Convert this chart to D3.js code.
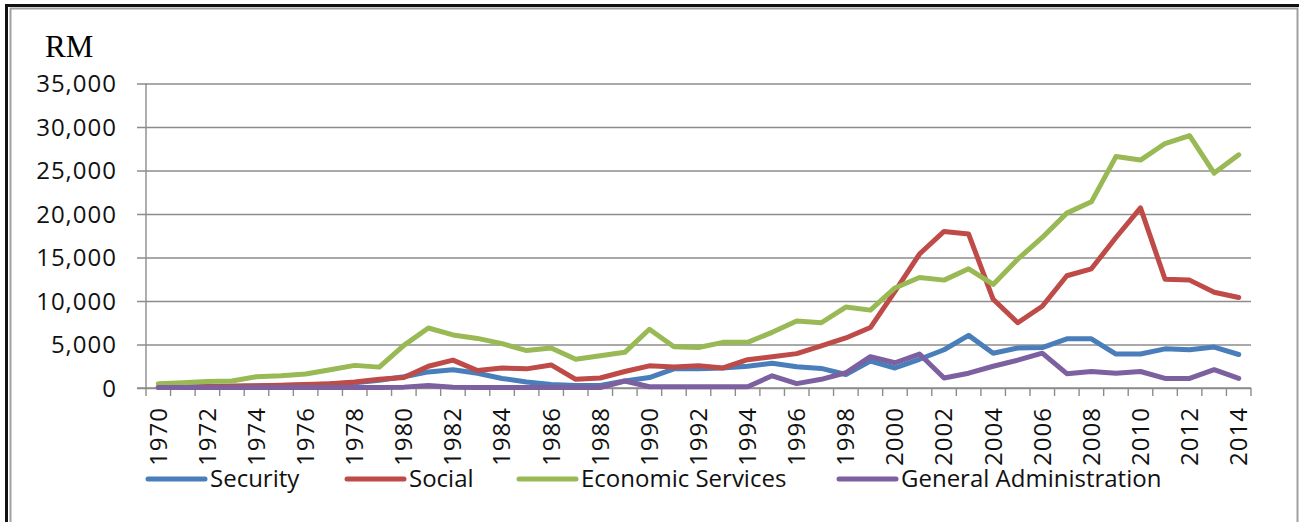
<!DOCTYPE html>
<html>
<head>
<meta charset="utf-8">
<script src="https://cdn.jsdelivr.net/npm/d3@7"></script>
<style>
	body { margin: 0; background: #fff; }
	svg { display: block; }
</style>
</head>
<body>
<div id="chart-div"></div>
<script>
// data (RM millions)
const years = d3.range(1970, 2015);

const security = [
	100, 120, 150, 180, 220, 280, 350, 450, 600, 900,
	1300, 1850, 2100, 1700, 1100, 700, 400, 300, 300, 800,
	1200, 2200, 2200, 2300, 2500, 2850, 2450, 2250, 1550, 3100,
	2300, 3300, 4400, 6050, 4000, 4600, 4650, 5650, 5650, 3900,
	3900, 4500, 4400, 4700, 3850
];
const social = [
	80, 120, 170, 220, 270, 320, 400, 500, 700, 1000,
	1200, 2500, 3200, 2000, 2300, 2200, 2650, 1000, 1150, 1900,
	2550, 2400, 2550, 2300, 3250, 3600, 3950, 4850, 5750, 6950,
	11100, 15400, 18000, 17700, 10200, 7500, 9400, 12900, 13700, 17300,
	20700, 12500, 12400, 11000, 10400
];
const economic = [
	500, 600, 750, 800, 1300, 1400, 1600, 2100, 2600, 2400,
	4900, 6900, 6100, 5700, 5100, 4300, 4600, 3300, 3700, 4100,
	6750, 4750, 4650, 5250, 5250, 6400, 7700, 7500, 9300, 8950,
	11500, 12700, 12400, 13700, 11900, 14800, 17300, 20100, 21400, 26600,
	26200, 28100, 29000, 24700, 26800
];
const generalAdmin = [
	50, 50, 50, 50, 50, 50, 50, 50, 50, 50,
	100, 300, 80, 50, 50, 50, 50, 50, 50, 800,
	150, 150, 150, 150, 150, 1400, 500, 1000, 1750, 3600,
	2900, 3900, 1150, 1700, 2500, 3200, 4000, 1650, 1900, 1700,
	1900, 1100, 1100, 2100, 1100
];

const seriesNames = ['Security', 'Social', 'Economic Services', 'General Administration'];
const seriesValues = [security, social, economic, generalAdmin];
const seriesColors = ['#4a7ebb', '#be4b48', '#98b954', '#7d60a0'];

const yTicks = d3.range(0, 35001, 5000);

const WIDTH = 1299;
const HEIGHT = 522;
const PLOT = { left: 146, right: 1251, top: 83.5, bottom: 388 };
const FONT = '"Open Sans", "Noto Sans", sans-serif';
const GRID = '#8c8c8c';
// where each legend entry begins (layout only)
const LEGEND_STARTS = [148, 347, 519, 839];

const svg = d3
	.select('#chart-div')
	.append('svg')
	.attr('width', WIDTH)
	.attr('height', HEIGHT);

// frame: black outer line with a gray one inside
svg.append('path')
	.attr('d', `M6.5,${HEIGHT + 5} V5.5 H${WIDTH + 5}`)
	.attr('fill', 'none')
	.attr('stroke', '#111')
	.attr('stroke-width', 3);
svg.append('path')
	.attr('d', `M10.5,${HEIGHT + 5} V8.5 H1297.5 V${HEIGHT + 5}`)
	.attr('fill', 'none')
	.attr('stroke', '#a0a0a0')
	.attr('stroke-width', 2);

const x = d3.scaleBand()
	.domain(years)
	.range([PLOT.left, PLOT.right]);

const y = d3.scaleLinear()
	.domain([0, 35000])
	.range([PLOT.bottom, PLOT.top]);

// gridlines + y labels
const yAxis = svg.append('g')
	.attr('transform', `translate(${PLOT.left},0)`)
	.call(
		d3.axisLeft(y)
			.tickValues(yTicks)
			.tickSize(-(PLOT.right - PLOT.left))
			.tickFormat(d3.format(','))
	);
yAxis.select('.domain').remove();
yAxis.selectAll('.tick line')
	.attr('x1', -9)
	.attr('stroke', GRID)
	.attr('stroke-width', 1.4);
yAxis.selectAll('.tick text')
	.attr('x', -29)
	.attr('dy', '0.35em')
	.style('font-family', FONT)
	.style('font-size', '24px')
	.style('letter-spacing', '1px')
	.attr('fill', '#111');

svg.append('line')
	.attr('x1', PLOT.left)
	.attr('x2', PLOT.left)
	.attr('y1', PLOT.top)
	.attr('y2', PLOT.bottom)
	.attr('stroke', GRID)
	.attr('stroke-width', 1.4);

// category axis, ticks between the years
const xAxis = svg.append('g')
	.attr('transform', `translate(0,${PLOT.bottom})`);
xAxis.append('line')
	.attr('x1', PLOT.left - 9)
	.attr('x2', PLOT.right)
	.attr('stroke', GRID)
	.attr('stroke-width', 1.4);
xAxis.selectAll('.cat-tick')
	.data(years.concat([null]))
	.join('line')
	.attr('class', 'cat-tick')
	.attr('x1', (d, i) => PLOT.left + i * x.step())
	.attr('x2', (d, i) => PLOT.left + i * x.step())
	.attr('y1', 0)
	.attr('y2', 8)
	.attr('stroke', GRID)
	.attr('stroke-width', 1.4);
xAxis.selectAll('.year-text')
	.data(years.filter((d) => d % 2 === 0))
	.join('text')
	.attr('class', 'year-text')
	.attr('transform', (d) => `translate(${x(d) + x.bandwidth() / 2},19) rotate(-90)`)
	.attr('text-anchor', 'end')
	.attr('dy', '0.35em')
	.style('font-family', FONT)
	.style('font-size', '24px')
	.style('letter-spacing', '1px')
	.attr('fill', '#111')
	.text((d) => d);

// unit label
svg.append('text')
	.attr('x', 45)
	.attr('y', 57)
	.style('font-family', '"Liberation Serif", "Times New Roman", serif')
	.style('font-size', '31px')
	.attr('fill', '#000')
	.text('RM');

// series lines
const line = d3.line()
	.x((d, i) => x(years[i]) + x.bandwidth() / 2)
	.y((d) => y(d));

svg.append('g')
	.selectAll('path')
	.data(seriesValues)
	.join('path')
	.attr('d', line)
	.attr('fill', 'none')
	.attr('stroke', (d, i) => seriesColors[i])
	.attr('stroke-width', 5)
	.attr('stroke-linejoin', 'round')
	.attr('stroke-linecap', 'round');

// legend
const legend = svg.append('g').attr('transform', 'translate(0,479)');
const items = legend.selectAll('g')
	.data(seriesNames)
	.join('g')
	.attr('transform', (d, i) => `translate(${LEGEND_STARTS[i]},0)`);
items.append('line')
	.attr('x1', 0)
	.attr('x2', 57)
	.attr('stroke', (d, i) => seriesColors[i])
	.attr('stroke-width', 5)
	.attr('stroke-linecap', 'round');
items.append('text')
	.attr('x', 62)
	.attr('dy', '0.35em')
	.style('font-family', FONT)
	.style('font-size', '24px')
	.attr('fill', '#111')
	.text((d) => d);
</script>
</body>
</html>
